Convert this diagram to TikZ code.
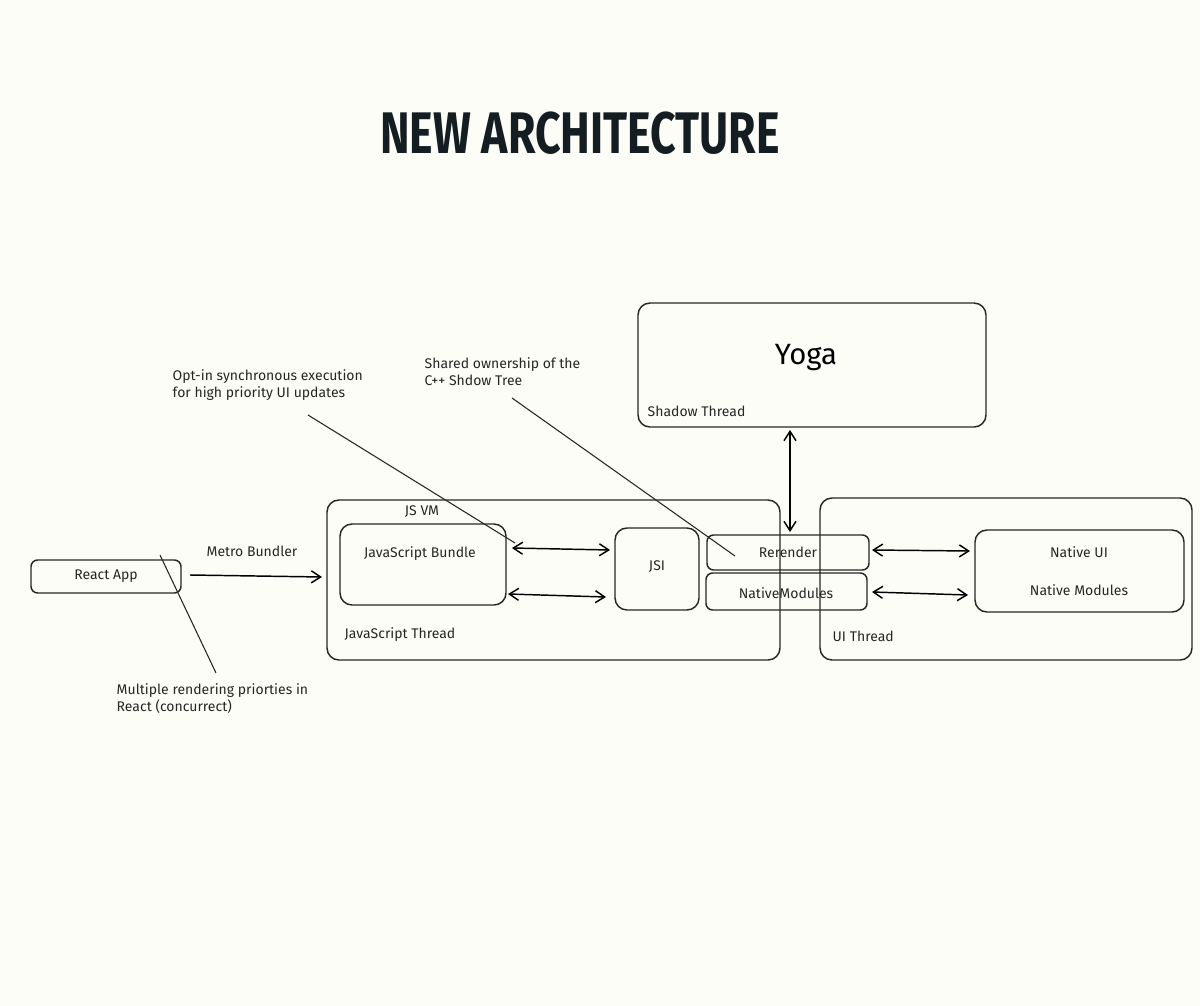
\documentclass[tikz,border=0pt]{standalone}
\usepackage{fontspec}
\setmainfont{Fira Sans}
\newfontfamily\titlefont{Fira Sans}
\begin{document}
\begin{tikzpicture}[x=0.75pt,y=-0.75pt,
  box/.style={draw=black!85,line width=1.1pt,rounded corners=9pt},
  lbl/.style={font=\fontsize{10.5}{12.5}\selectfont,text=black!85},
  dbl/.style={<->,line width=1.1pt,>={Straight Barb[length=7pt,width=9pt]}},
  ann/.style={line width=0.8pt,draw=black!85}]
\usetikzlibrary{arrows.meta}
\fill[fill={rgb,255:red,253;green,253;blue,248}] (0,0) rectangle (1200,1006);
\useasboundingbox (0,0) rectangle (1200,1006);
\node[font=\titlefont\bfseries\fontsize{44}{48}\selectfont,text={rgb,255:red,20;green,30;blue,34},xscale=0.76] (title) at (580,133) {NEW ARCHITECTURE};
% boxes
\draw[box] (638,303) rectangle (986,427);
\node (yoga) at (806,358) {\fontsize{22}{26}\selectfont Yoga};
\node[lbl,anchor=west] (shadow) at (643,411) {Shadow Thread};
\coordinate (yb) at (790,430);
\draw[box] (327,500) rectangle (780,660);
\node[lbl] (jsvm) at (422,512) {JS VM};
\node[lbl,anchor=west] (jst) at (340,635) {JavaScript Thread};
\draw[box] (340,524) rectangle (506,605);
\node[lbl] (bundle) at (420,554) {JavaScript Bundle};
\draw[box] (615,528) rectangle (699,610);
\node[lbl] (jsi) at (657,567) {JSI};
\draw[box,rounded corners=5pt] (707,535) rectangle (869,570);
\node[lbl] (rr) at (788,552) {Rerender};
\draw[box,rounded corners=5pt] (706,573) rectangle (867,610);
\node[lbl] (nm) at (786,593) {NativeModules};
\draw[box] (820,498) rectangle (1192,660);
\node[lbl,anchor=west] (uit) at (828,636) {UI Thread};
\draw[box] (975,530) rectangle (1184,612);
\node[lbl] (nui) at (1079,552) {Native UI};
\node[lbl] (nmod) at (1079,590) {Native Modules};
\draw[box,rounded corners=5pt] (31,560) rectangle (181,593);
\node[lbl] (app) at (106,576) {React App};
% arrows
\coordinate (a1) at (190,575); \coordinate (a2) at (322,577);
\draw[->,line width=1.1pt,>={Straight Barb[length=7pt,width=9pt]}] (a1) -- (a2);
\node[lbl] (metro) at (252,551) {Metro Bundler};
\coordinate (b1) at (512,548); \coordinate (b2) at (610,550);
\draw[dbl] (b1) -- (b2);
\coordinate (c1) at (508,594); \coordinate (c2) at (606,597);
\draw[dbl] (c1) -- (c2);
\coordinate (d1) at (872,550); \coordinate (d2) at (970,551);
\draw[dbl] (d1) -- (d2);
\coordinate (e1) at (872,592); \coordinate (e2) at (968,595);
\draw[dbl] (e1) -- (e2);
\coordinate (y2) at (790,532);
\draw[dbl] (yb) -- (y2);
% annotations
\node[lbl,anchor=north west,align=left] (n1) at (168,365) {Opt-in synchronous execution\\for high priority UI updates};
\coordinate (n1a) at (308,415); \coordinate (n1b) at (515,543);
\draw[ann] (n1a) -- (n1b);
\node[lbl,anchor=north west,align=left] (n2) at (420,353) {Shared ownership of the\\C++ Shdow Tree};
\coordinate (n2a) at (512,398); \coordinate (n2b) at (735,556);
\draw[ann] (n2a) -- (n2b);
\node[lbl,anchor=north west,align=left] (n3) at (112,679) {Multiple rendering priorties in\\React (concurrect)};
\coordinate (n3a) at (160,555); \coordinate (n3b) at (216,673);
\draw[ann] (n3a) -- (n3b);
\end{tikzpicture}
\end{document}
